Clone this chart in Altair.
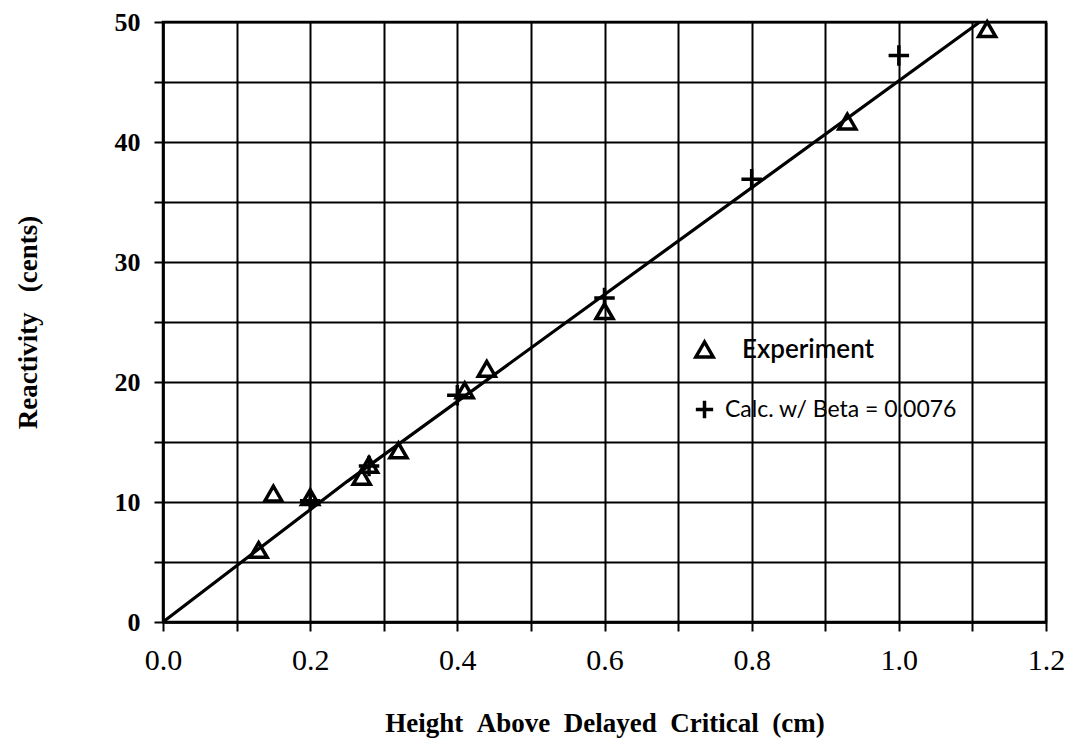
import altair as alt
import pandas as pd

# Experiment (triangles)
exp_x = [0.13, 0.15, 0.20, 0.27, 0.28, 0.32, 0.41, 0.44, 0.60, 0.93, 1.12]
exp_y = [6.0, 10.7, 10.4, 12.1, 13.1, 14.3, 19.3, 21.1, 25.9, 41.7, 49.4]

# Calc. w/ Beta = 0.0076 (plus signs)
calc_x = [0.20, 0.28, 0.40, 0.60, 0.80, 1.00]
calc_y = [10.1, 13.0, 18.9, 27.0, 36.9, 47.2]

# Fitted line
line_x = [0.0, 0.25, 1.11]
line_y = [0.0, 11.7, 50.0]

x_ticks = [0.0, 0.1, 0.2, 0.3, 0.4, 0.5, 0.6, 0.7, 0.8, 0.9, 1.0, 1.1, 1.2]
y_ticks = [0, 5, 10, 15, 20, 25, 30, 35, 40, 45, 50]

series_names = ["Experiment", "Calc. w/ Beta = 0.0076"]

pts = pd.DataFrame(
    {"x": exp_x + calc_x,
     "y": exp_y + calc_y,
     "series": [series_names[0]] * len(exp_x) + [series_names[1]] * len(calc_x)}
)
line_df = pd.DataFrame({"x": line_x, "y": line_y})

serif = "Liberation Serif"
sp = "\u00a0\u00a0"
sp3 = "\u00a0\u00a0\u00a0"

x_enc = alt.X(
    "x:Q",
    scale=alt.Scale(domain=[0, 1.2], nice=False),
    axis=alt.Axis(
        values=x_ticks,
        labelExpr="round(datum.value*10) % 2 == 0 ? format(datum.value, '.1f') : ''",
        title=f"Height{sp}Above{sp}Delayed{sp}Critical{sp}(cm)",
    ),
)
y_enc = alt.Y(
    "y:Q",
    scale=alt.Scale(domain=[0, 50], nice=False),
    axis=alt.Axis(
        values=y_ticks,
        labelExpr="datum.value % 10 == 0 ? datum.label : ''",
        title=f"Reactivity{sp3}(cents)",
    ),
)

line = alt.Chart(line_df).mark_line(color="black", strokeWidth=3.2).encode(x=x_enc, y=y_enc)

points = alt.Chart(pts).mark_point(filled=False, strokeWidth=3.5, color="black", opacity=1).encode(
    x="x:Q",
    y="y:Q",
    shape=alt.Shape(
        "series:N",
        scale=alt.Scale(domain=series_names, range=["triangle-up", "M-1,0H1M0,-1V1"]),
        sort=series_names,
        legend=alt.Legend(
            title=None,
            orient="none",
            legendX=530,
            legendY=316,
            labelFont="Lato",
            labelFontSize=alt.ExprRef("datum.label == 'Experiment' ? 26 : 23"),
            labelFontWeight=alt.ExprRef("datum.label == 'Experiment' ? 600 : 400"),
            labelColor="black",
            labelOffset=alt.ExprRef("datum.label == 'Experiment' ? 26 : 9"),
            labelLimit=400,
            rowPadding=29,
            symbolSize=300,
            symbolStrokeWidth=3.5,
            symbolStrokeColor="black",
            symbolFillColor="transparent",
            symbolOpacity=1,
            padding=0,
        ),
    ),
    size=alt.condition(alt.datum.series == "Experiment", alt.value(290), alt.value(420)),
)

chart = (
    alt.layer(line, points)
    .properties(
        width=883,
        height=600,
        autosize=alt.AutoSizeParams(type="none"),
        padding={"left": 155, "top": 14, "right": 20, "bottom": 119},
    )
    .configure_view(stroke="black", strokeWidth=2.5)
    .configure_axis(
        grid=True,
        gridColor="black",
        gridWidth=2,
        gridOpacity=1,
        domainColor="black",
        domainWidth=2.5,
        tickColor="black",
        tickWidth=2,
        tickSize=9,
        labelColor="black",
        titleColor="black",
        labelFont=serif,
        titleFont=serif,
        labelFontSize=30,
        titleFontSize=27,
        titleFontWeight="bold",
    )
    .configure_axisX(labelPadding=14, titlePadding=35, labelFlush=False)
    .configure_axisY(labelPadding=14, titlePadding=72, labelFontWeight="bold", labelFontSize=26)
)

chart.save("out.html", embed_options={"renderer": "svg", "actions": False})
